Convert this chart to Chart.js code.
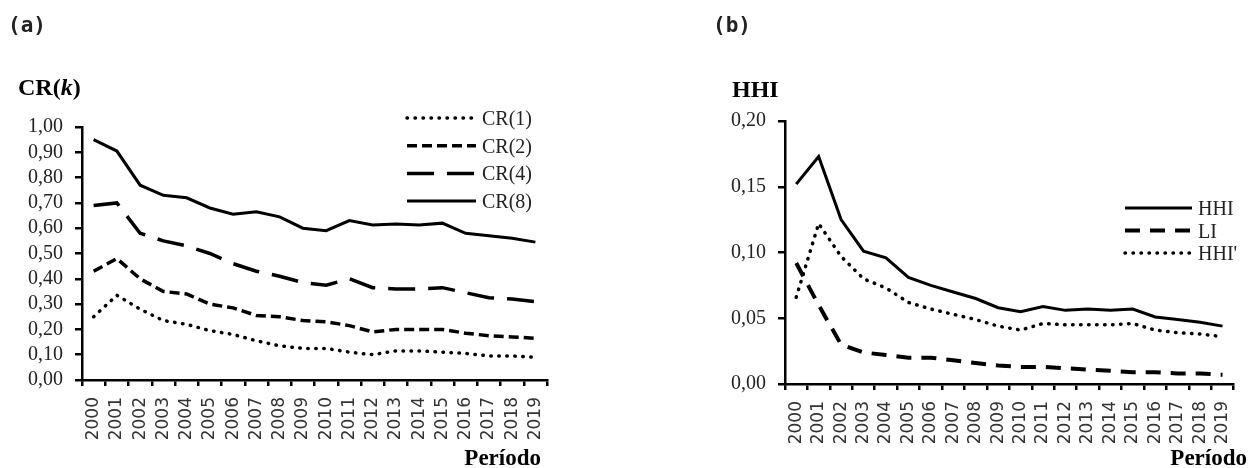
<!DOCTYPE html>
<html>
<head>
<meta charset="utf-8">
<script src="https://cdn.jsdelivr.net/npm/chart.js@4.4.0/dist/chart.umd.min.js"></script>
<style>
html, body { margin: 0; padding: 0; background: #fff; }
#wrap { position: relative; width: 1254px; height: 468px; }
.box { position: absolute; top: 0; width: 627px; height: 468px; }
</style>
</head>
<body>
<div id="wrap">
  <div class="box" style="left:0"><canvas id="chartA" width="627" height="468"></canvas></div>
  <div class="box" style="left:627px"><canvas id="chartB" width="627" height="468"></canvas></div>
</div>
<script>
// categories
const years = ['2000', '2001', '2002', '2003', '2004', '2005', '2006', '2007', '2008', '2009',
               '2010', '2011', '2012', '2013', '2014', '2015', '2016', '2017', '2018', '2019'];

// panel (a) - concentration ratios
const cr1 = [0.25, 0.335, 0.28, 0.235, 0.22, 0.195, 0.18, 0.155, 0.135, 0.125,
             0.125, 0.11, 0.10, 0.115, 0.115, 0.11, 0.105, 0.095, 0.095, 0.09];
const cr2 = [0.43, 0.48, 0.40, 0.35, 0.34, 0.30, 0.285, 0.255, 0.25, 0.235,
             0.23, 0.215, 0.19, 0.20, 0.20, 0.20, 0.185, 0.175, 0.17, 0.165];
const cr4 = [0.69, 0.70, 0.58, 0.55, 0.53, 0.50, 0.46, 0.43, 0.41, 0.385,
             0.375, 0.40, 0.365, 0.36, 0.36, 0.365, 0.345, 0.325, 0.32, 0.31];
const cr8 = [0.95, 0.905, 0.77, 0.73, 0.72, 0.68, 0.655, 0.665, 0.645, 0.60,
             0.59, 0.63, 0.613, 0.617, 0.613, 0.62, 0.58, 0.57, 0.56, 0.545];

// panel (b) - HHI, LI, HHI'
const hhi = [0.152, 0.173, 0.125, 0.101, 0.096, 0.081, 0.075, 0.070, 0.065, 0.058,
             0.055, 0.059, 0.056, 0.057, 0.056, 0.057, 0.051, 0.049, 0.047, 0.044];
const li = [0.092, 0.060, 0.030, 0.024, 0.022, 0.020, 0.020, 0.018, 0.016, 0.014,
            0.013, 0.013, 0.012, 0.011, 0.010, 0.009, 0.009, 0.008, 0.008, 0.007];
const hhiPrime = [0.066, 0.122, 0.097, 0.080, 0.073, 0.062, 0.057, 0.053, 0.049, 0.044,
                  0.041, 0.046, 0.045, 0.045, 0.045, 0.046, 0.041, 0.039, 0.038, 0.036];

// tick ranges
const ticksA = { min: 0, max: 1, step: 0.1 };
const ticksB = { min: 0, max: 0.2, step: 0.05 };

const SERIF = '"Liberation Serif", "Times New Roman", serif';

function comma(v) {
    return Number(v).toFixed(2).replace('.', ',');
}

// draws panel tag, y title, "Período" and a line legend
function makeDecor(d) {
    return {
        id: 'decor',
        afterDraw(chart) {
            const ctx = chart.ctx;
            ctx.save();
            ctx.fillStyle = '#222';
            ctx.textBaseline = 'alphabetic';
            ctx.textAlign = 'left';

            ctx.font = 'bold 21px "DejaVu Sans Mono", monospace';
            ctx.fillText(d.tag, d.tagX, 32);

            ctx.fillStyle = '#000';
            let x = d.titleX;
            d.title.forEach(part => {
                ctx.font = (part.italic ? 'italic ' : '') + 'bold 24px ' + SERIF;
                ctx.fillText(part.t, x, d.titleY);
                x += ctx.measureText(part.t).width;
            });

            ctx.font = 'bold 23px ' + SERIF;
            ctx.textAlign = 'right';
            ctx.fillText('Período', d.periodX, 465);

            ctx.textAlign = 'left';
            ctx.font = '20px ' + SERIF;
            ctx.fillStyle = '#222';
            d.legendOrder.forEach((idx, i) => {
                const ds = chart.data.datasets[idx];
                const y = d.legendY + i * d.legendGap;
                ctx.beginPath();
                ctx.strokeStyle = ds.borderColor;
                ctx.lineWidth = ds.borderWidth;
                ctx.lineCap = ds.borderCapStyle || 'butt';
                ctx.setLineDash(ds.borderDash || []);
                ctx.moveTo(d.legendX1, y);
                ctx.lineTo(d.legendX2, y);
                ctx.stroke();
                ctx.setLineDash([]);
                ctx.fillText(ds.label, d.legendX2 + 6, y + 7);
            });
            ctx.restore();
        }
    };
}

function dotted(label, data) {
    return { label, data, borderColor: '#000', borderWidth: 3.5, borderDash: [0.5, 7.5],
             borderCapStyle: 'round', pointRadius: 0, tension: 0, fill: false };
}
function dashed(label, data, dash, w) {
    return { label, data, borderColor: '#000', borderWidth: w, borderDash: dash,
             borderCapStyle: 'butt', pointRadius: 0, tension: 0, fill: false };
}

function makeOptions(range, yWidth, xHeight, pad) {
    return {
        responsive: false,
        animation: false,
        layout: { padding: pad },
        plugins: { legend: { display: false }, tooltip: { enabled: false } },
        scales: {
            x: {
                offset: true,
                grid: { offset: true, drawOnChartArea: false, tickLength: 6, color: '#000', lineWidth: 2.5 },
                border: { display: true, color: '#000', width: 2.5 },
                ticks: {
                    minRotation: 90, maxRotation: 90, autoSkip: false, padding: 11,
                    color: '#333', font: { family: '"DejaVu Sans", sans-serif', size: 17 }
                },
                afterFit(scale) { scale.height = xHeight; }
            },
            y: {
                min: range.min, max: range.max,
                grid: { drawOnChartArea: false, tickLength: 7, color: '#000', lineWidth: 2.5 },
                border: { display: true, color: '#000', width: 2.5 },
                ticks: {
                    stepSize: range.step, autoSkip: false, padding: 12, color: '#222',
                    font: { family: SERIF, size: 20 },
                    callback: v => comma(v)
                },
                afterFit(scale) { scale.width = yWidth; }
            }
        }
    };
}

new Chart(document.getElementById('chartA'), {
    type: 'line',
    data: {
        labels: years,
        datasets: [
            dotted('CR(1)', cr1),
            dashed('CR(2)', cr2, [10, 5], 3.5),
            dashed('CR(4)', cr4, [27, 13], 3.5),
            dashed('CR(8)', cr8, [], 3)
        ]
    },
    options: makeOptions(ticksA, 82, 88, { left: 0, top: 127, right: 80, bottom: 0 }),
    plugins: [makeDecor({
        tag: '(a)', tagX: 8,
        title: [{ t: 'CR(' }, { t: 'k', italic: true }, { t: ')' }], titleX: 18, titleY: 95,
        periodX: 541,
        legendOrder: [0, 1, 2, 3], legendX1: 407, legendX2: 476, legendY: 118, legendGap: 27.7
    })]
});

new Chart(document.getElementById('chartB'), {
    type: 'line',
    data: {
        labels: years,
        datasets: [
            dashed('HHI', hhi, [], 3),
            dashed('LI', li, [15, 10], 4),
            dotted("HHI'", hhiPrime)
        ]
    },
    options: makeOptions(ticksB, 158, 84, { left: 0, top: 121, right: 3, bottom: 0 }),
    plugins: [makeDecor({
        tag: '(b)', tagX: 86,
        title: [{ t: 'HHI' }], titleX: 105, titleY: 97,
        periodX: 620,
        legendOrder: [0, 1, 2], legendX1: 498, legendX2: 565, legendY: 208, legendGap: 22.5
    })]
});
</script>
</body>
</html>
